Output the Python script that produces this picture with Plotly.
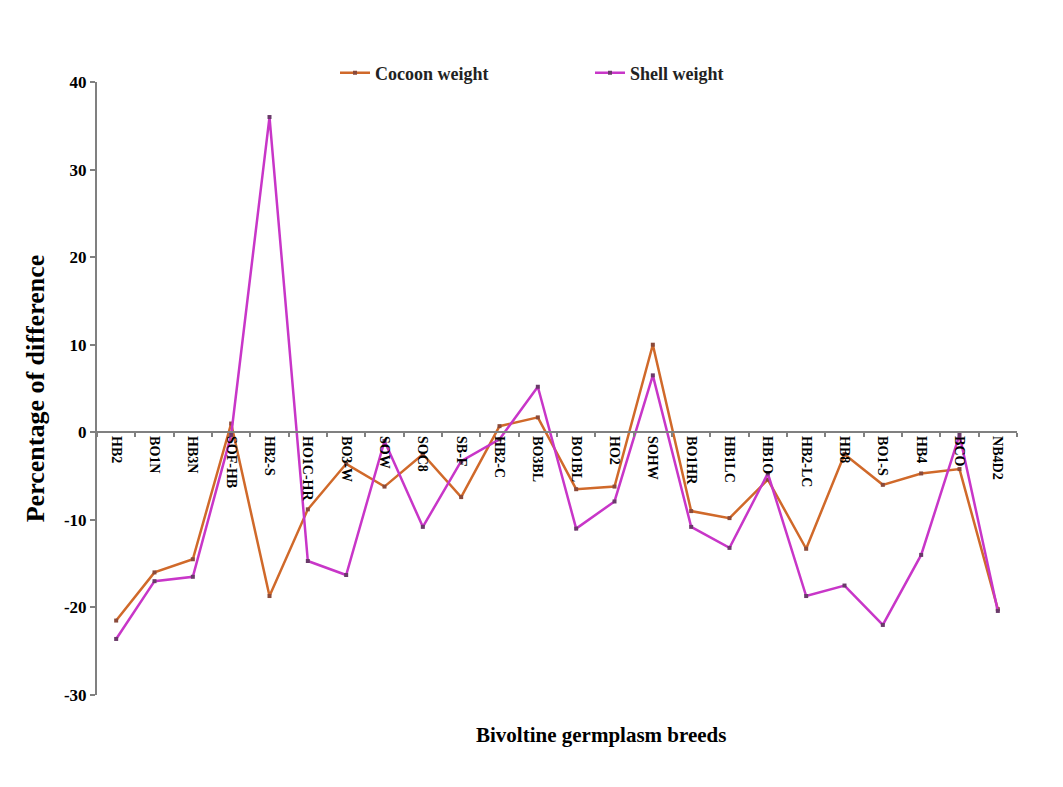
import plotly.graph_objects as go

breeds = ["HB2", "BO1N", "HB3N", "SOF-HB", "HB2-S", "HO1C-HR", "BO3-W", "SOW",
          "SOC8", "SB-F", "HB2-C", "BO3BL", "BO1BL", "HO2", "SOHW", "BO1HR",
          "HB1LC", "HB1O", "HB2-LC", "HB8", "BO1-S", "HB4", "BCO", "NB4D2"]

cocoon_weight = [-21.5, -16.0, -14.5, 1.0, -18.7, -8.8, -3.6, -6.2,
                 -2.5, -7.4, 0.7, 1.7, -6.5, -6.2, 10.0, -9.0,
                 -9.8, -5.4, -13.3, -2.5, -6.0, -4.7, -4.2, -20.2]

shell_weight = [-23.6, -17.0, -16.5, -0.3, 36.0, -14.7, -16.3, -1.0,
                -10.8, -3.3, -0.8, 5.2, -11.0, -7.9, 6.5, -10.8,
                -13.2, -4.7, -18.7, -17.5, -22.0, -14.0, -0.3, -20.4]

y_ticks = [-30, -20, -10, 0, 10, 20, 30, 40]
y_tick_text = ["-30", "-20", "-10", "0", "10", "20", "30", "40"]

serif = "Liberation Serif, Times New Roman, serif"

W, H = 1063, 787
OFF = 8  # page body margin
m_l, m_r, m_t, m_b = 97 - OFF, 46 + OFF, 40 - OFF, 92 + OFF
plot_h = H - m_t - m_b
plot_w = W - m_l - m_r
top_px = 82
bot_px = 695
dom_top = (bot_px - (m_t + OFF)) and 1 - (top_px - (m_t + OFF)) / plot_h


def py(px):  # screen pixel y -> paper fraction
    return (bot_px - px) / plot_h


def px_(x):  # screen pixel x -> paper fraction
    return (x - 97) / plot_w


ymin, ymax = -30, 40

fig = go.Figure()
fig.add_trace(go.Scatter(
    x=breeds, y=cocoon_weight, name="Cocoon weight", mode="lines+markers",
    line=dict(color="#D0692A", width=2.5),
    marker=dict(symbol="square", size=4, color="#8A4A3A"),
))
fig.add_trace(go.Scatter(
    x=breeds, y=shell_weight, name="Shell weight", mode="lines+markers",
    line=dict(color="#C836C8", width=2.5),
    marker=dict(symbol="square", size=4, color="#6A3A6A"),
))

fig.update_layout(
    width=W, height=H,
    paper_bgcolor="white", plot_bgcolor="white",
    margin=dict(l=m_l, r=m_r, t=m_t, b=m_b),
    font=dict(family=serif, color="black"),
    showlegend=True,
    legend=dict(orientation="h", x=px_(335), xanchor="left",
                y=py(73), yanchor="middle",
                font=dict(family=serif, size=18, color="#222", weight="bold"),
                itemwidth=30, entrywidthmode="pixels", entrywidth=210,
                bgcolor="rgba(0,0,0,0)"),
    xaxis=dict(
        type="category", range=[-0.5, len(breeds) - 0.5],
        anchor="free", position=dom_top * (0 - ymin) / (ymax - ymin),
        showline=True, linecolor="#808080", linewidth=2,
        ticks="outside", ticklen=4, tickcolor="#808080", tickwidth=1.5,
        tickson="boundaries", tickangle=90,
        tickfont=dict(family=serif, size=14, color="black", weight="bold"),
        showgrid=False, zeroline=False,
    ),
    yaxis=dict(
        domain=[0, dom_top],
        range=[ymin, ymax], tickvals=y_ticks, ticktext=y_tick_text,
        showline=True, linecolor="#808080", linewidth=2,
        ticks="outside", ticklen=5, tickcolor="#808080", tickwidth=1.5,
        tickfont=dict(family=serif, size=17, color="black", weight="bold"),
        showgrid=False, zeroline=False,
        title=dict(text="Percentage of difference",
                   font=dict(family=serif, size=26, weight="bold"), standoff=12),
    ),
    annotations=[dict(
        text="<b>Bivoltine germplasm breeds</b>", xref="paper", yref="paper",
        x=px_(601), y=py(735), xanchor="center", yanchor="middle",
        showarrow=False, font=dict(family=serif, size=21, color="black"),
    )],
)

fig.write_html("out.html")
